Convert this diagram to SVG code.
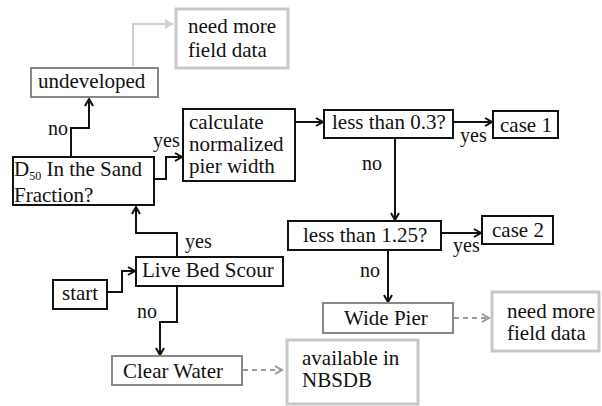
<svg xmlns="http://www.w3.org/2000/svg" width="602" height="406" viewBox="0 0 602 406" font-family="'Liberation Serif', 'Times New Roman', 'DejaVu Serif', serif">
<style>
text{font-family:'Liberation Serif','Times New Roman','DejaVu Serif',serif;font-size:21px;fill:#111}
.lbl{font-size:20px}
.sub{font-size:12px}
.b{fill:#fff;stroke:#111;stroke-width:2}
.g{fill:#fff;stroke:#888;stroke-width:2}
.lg{fill:#fff;stroke:#c8c8c8;stroke-width:3}
.c{fill:none;stroke:#111;stroke-width:2}
.cl{fill:none;stroke:#d0d0d0;stroke-width:2}
.cd{fill:none;stroke:#999;stroke-width:2;stroke-dasharray:5 4}
</style>
<defs>
<marker id="ah" markerWidth="10" markerHeight="10" refX="8" refY="5" orient="auto" markerUnits="userSpaceOnUse"><path d="M1,1 L8,5 L1,9" fill="none" stroke="#111" stroke-width="2"/></marker>
<marker id="ahl" markerWidth="12" markerHeight="12" refX="9" refY="6" orient="auto" markerUnits="userSpaceOnUse"><path d="M1,1 L9,6 L1,11 Z" fill="#d0d0d0"/></marker>
<marker id="ahd" markerWidth="10" markerHeight="10" refX="8" refY="5" orient="auto" markerUnits="userSpaceOnUse"><path d="M1,1 L8,5 L1,9" fill="none" stroke="#999" stroke-width="2"/></marker>
</defs>
<rect width="602" height="406" fill="#fff"/>
<g id="connectors">
<path class="cl" d="M133,66 V24 H173" marker-end="url(#ahl)"/>
<path class="c" d="M71,156 V128 H89 V99" marker-end="url(#ah)"/>
<path class="c" d="M155,179 H166 V157 H182" marker-end="url(#ah)"/>
<path class="c" d="M296,122 H323" marker-end="url(#ah)"/>
<path class="c" d="M454,122 H492" marker-end="url(#ah)"/>
<path class="c" d="M395,139 V220" marker-end="url(#ah)"/>
<path class="c" d="M442,233 H481" marker-end="url(#ah)"/>
<path class="c" d="M388,251 V302" marker-end="url(#ah)"/>
<path class="cd" d="M454,318 H489" marker-end="url(#ahd)"/>
<path class="c" d="M108,292 H122 V271 H135" marker-end="url(#ah)"/>
<path class="c" d="M177,256 V233 H136 V207" marker-end="url(#ah)"/>
<path class="c" d="M177,287 V322 H160 V355" marker-end="url(#ah)"/>
<path class="cd" d="M243,370 H282" marker-end="url(#ahd)"/>
<text class="lbl" x="48" y="135">no</text>
<text class="lbl" x="153" y="147">yes</text>
<text class="lbl" x="460" y="142">yes</text>
<text class="lbl" x="362" y="170">no</text>
<text class="lbl" x="453" y="252">yes</text>
<text class="lbl" x="360" y="277">no</text>
<text class="lbl" x="185" y="248">yes</text>
<text class="lbl" x="137" y="318">no</text>
</g>
<g id="need1"><rect class="lg" x="176" y="9" width="112" height="59"/><text x="188" y="33">need more</text><text x="188" y="57">field data</text></g>
<g id="undeveloped"><rect class="g" x="31" y="68" width="127" height="29"/><text x="38" y="88">undeveloped</text></g>
<g id="calc"><rect class="b" x="183" y="109" width="112" height="72"/><text x="189" y="129">calculate</text><text x="189" y="151">normalized</text><text x="189" y="173">pier width</text></g>
<g id="d50"><rect class="b" x="13" y="157" width="141" height="48"/><text x="14" y="176">D<tspan class="sub" dy="4">50</tspan><tspan dy="-4"> In the Sand</tspan></text><text x="14" y="202">Fraction?</text></g>
<g id="lt03"><rect class="b" x="324" y="110" width="129" height="28"/><text x="332" y="129">less than 0.3?</text></g>
<g id="case1"><rect class="b" x="493" y="111" width="65" height="27"/><text x="500" y="132">case 1</text></g>
<g id="lt125"><rect class="b" x="288" y="221" width="153" height="29"/><text x="303" y="242">less than 1.25?</text></g>
<g id="case2"><rect class="b" x="482" y="216" width="71" height="28"/><text x="492" y="237">case 2</text></g>
<g id="widepier"><rect class="g" x="323" y="303" width="130" height="30"/><text x="344" y="325">Wide Pier</text></g>
<g id="need2"><rect class="lg" x="492" y="292" width="107" height="59"/><text x="507" y="318">need more</text><text x="507" y="340">field data</text></g>
<g id="start"><rect class="b" x="53" y="280" width="54" height="29"/><text x="62" y="300">start</text></g>
<g id="livebed"><rect class="b" x="136" y="257" width="147" height="29"/><text x="142" y="277">Live Bed Scour</text></g>
<g id="clearwater"><rect class="g" x="112" y="356" width="130" height="29"/><text x="123" y="378">Clear Water</text></g>
<g id="nbsdb"><rect class="lg" x="287" y="340" width="131" height="64"/><text x="302" y="365">available in</text><text x="302" y="387">NBSDB</text></g>
</svg>
